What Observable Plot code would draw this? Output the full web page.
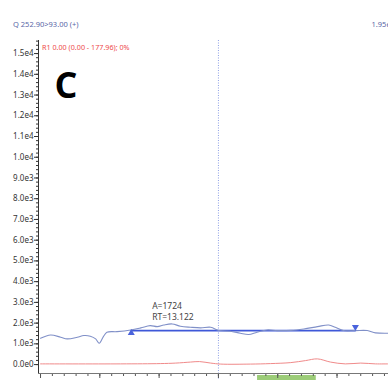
<!DOCTYPE html>
<html>
<head>
<meta charset="utf-8">
<script src="https://cdn.jsdelivr.net/npm/d3@7"></script>
<script src="https://cdn.jsdelivr.net/npm/@observablehq/plot@0.6"></script>
<style>
  html, body { margin: 0; padding: 0; background: #fff; overflow: hidden; }
  #chart { width: 388px; height: 380px; }
</style>
</head>
<body>
<div id="chart"></div>
<script>
// Extracted ion chromatogram, trace for Q 252.90>93.00 (+)
const traceTime = [12.900, 12.917, 12.934, 12.945, 12.962, 12.973, 12.984, 12.993, 12.999, 13.006,
  13.012, 13.029, 13.052, 13.069, 13.085, 13.097, 13.108, 13.122, 13.136, 13.153,
  13.170, 13.187, 13.201, 13.220, 13.237, 13.251, 13.265, 13.282, 13.299, 13.322,
  13.344, 13.367, 13.386, 13.397, 13.411, 13.431, 13.451, 13.465, 13.487];
const traceIntensity = [1270, 1430, 1320, 1240, 1320, 1400, 1370, 1240, 1030, 1350,
  1560, 1590, 1670, 1770, 1880, 1830, 1910, 1960, 1850, 1800,
  1770, 1800, 1640, 1610, 1510, 1450, 1560, 1670, 1640, 1650,
  1720, 1830, 1910, 1800, 1640, 1640, 1640, 1530, 1510];

// Reference (R1) trace
const refTime = [12.900, 13.035, 13.102, 13.128, 13.153, 13.168, 13.187, 13.204, 13.254, 13.288,
  13.322, 13.347, 13.367, 13.389, 13.414, 13.440, 13.465, 13.487];
const refIntensity = [34, 34, 48, 72, 121, 145, 72, 24, 24, 48,
  96, 193, 275, 121, 34, 72, 34, 34];

// Integrated peak: baseline start/end and its level
const peakStart = 13.053;
const peakEnd = 13.431;
const baselineLevel = 1640;
const peakArea = 1724;
const peakRT = 13.122;
const peakApex = 1960;

// Expected retention window and marker line
const windowStart = 13.266;
const windowEnd = 13.365;
const markerTime = 13.2;

// Axis ticks
const yMajorTicks = d3.range(0, 16).map(i => i * 1000);
const yMinorTicks = d3.range(0, 79).map(i => i * 200);
const xMajorTicks = d3.range(0, 6).map(i => 12.9 + i * 0.1);
const xMinorTicks = d3.range(0, 30).map(i => 12.9 + i * 0.02);

const trace = traceTime.map((t, i) => ({t, v: traceIntensity[i]}));
const ref = refTime.map((t, i) => ({t, v: refIntensity[i]}));
const baseline = [{t: peakStart, v: baselineLevel}, {t: peakEnd, v: baselineLevel}];

const fmtSci = d => d3.format(".1e")(d).replace("e+", "e");
const noText = () => "";
const yMin = -430;

const chart = Plot.plot({
  width: 388,
  height: 380,
  marginLeft: 38,
  marginRight: 0,
  marginTop: 40,
  marginBottom: 7,
  style: {fontFamily: "'Noto Sans', sans-serif", fontSize: "8px", background: "#fff", overflow: "hidden"},
  x: {domain: [12.8966, 13.4868], axis: null},
  y: {domain: [yMin, 15630], axis: null},
  marks: [
    // retention window bar under the time axis
    Plot.rect([0], {x1: () => windowStart, x2: () => windowEnd, y1: yMin, y2: yMin,
      insetTop: 2, insetBottom: -7, fill: "#9ccc78"}),
    // cursor line
    Plot.ruleX([markerTime], {stroke: "#8d9fe6", strokeWidth: 1, strokeDasharray: "1,1.5", insetBottom: -7}),
    // y axis: dense minor ticks, labelled majors
    Plot.axisY({ticks: yMinorTicks, tickSize: 2, tickFormat: noText, label: null, stroke: "#333"}),
    Plot.axisY({ticks: yMajorTicks, tickSize: 4, tickPadding: 1, tickFormat: fmtSci, label: null,
      stroke: "#333", fill: "#333", fontSize: 8}),
    Plot.frame({anchor: "left", stroke: "#333"}),
    // time axis: ticks only
    Plot.axisX({ticks: xMinorTicks, tickSize: 3, tickFormat: noText, label: null, stroke: "#555", anchor: "bottom"}),
    Plot.axisX({ticks: xMajorTicks, tickSize: 5, tickFormat: noText, label: null, stroke: "#555", anchor: "bottom"}),
    Plot.frame({anchor: "bottom", stroke: "#777"}),
    // reference trace
    Plot.line(ref, {x: "t", y: "v", stroke: "#f08a8a", strokeWidth: 1, curve: "catmull-rom"}),
    // peak baseline
    Plot.line(baseline, {x: "t", y: "v", stroke: "#3f58d8", strokeWidth: 1.6}),
    // analyte trace
    Plot.line(trace, {x: "t", y: "v", stroke: "#8090c8", strokeWidth: 1.1, curve: "catmull-rom"}),
    // peak start / end markers
    Plot.dot([peakStart], {x: d => d, y: () => baselineLevel, symbol: "triangle", r: 2.6,
      fill: "#4a63dc", stroke: "none", dy: 2.5}),
    Plot.dot([peakEnd], {x: d => d, y: () => baselineLevel, symbol: "triangle", r: 2.6, rotate: 180,
      fill: "#4a63dc", stroke: "none", dy: -3.5}),
    // peak annotation
    Plot.text([`A=${peakArea}`], {x: () => peakRT, y: () => peakApex, text: d => d,
      textAnchor: "start", lineAnchor: "middle", dx: -20, dy: -18, fill: "#444", fontSize: 8.5}),
    Plot.text([`RT=${peakRT}`], {x: () => peakRT, y: () => peakApex, text: d => d,
      textAnchor: "start", lineAnchor: "middle", dx: -20, dy: -7, fill: "#444", fontSize: 8.5}),
    // header lines
    Plot.text(["Q 252.90>93.00 (+)"], {frameAnchor: "top-left", text: d => d, textAnchor: "start",
      lineAnchor: "middle", dx: -25.5, dy: -16, fill: "#5a67a6", fontSize: 7.5}),
    Plot.text(["1.95e4"], {frameAnchor: "top-left", text: d => d, textAnchor: "start",
      lineAnchor: "middle", dx: 333, dy: -16, fill: "#5a67a6", fontSize: 7.5}),
    Plot.text(["R1 0.00 (0.00 - 177.96); 0%"], {frameAnchor: "top-left", text: d => d, textAnchor: "start",
      lineAnchor: "middle", dx: 3.5, dy: 7.5, fill: "#ee4b4b", fontSize: 7.2}),
    // panel letter
    Plot.text(["C"], {frameAnchor: "top-left", text: d => d, textAnchor: "middle",
      lineAnchor: "middle", dx: 27.5, dy: 46, fill: "#000", fontSize: 36, fontWeight: "bold",
      fontFamily: "'Open Sans', sans-serif"})
  ]
});

document.getElementById("chart").append(chart);
</script>
</body>
</html>
